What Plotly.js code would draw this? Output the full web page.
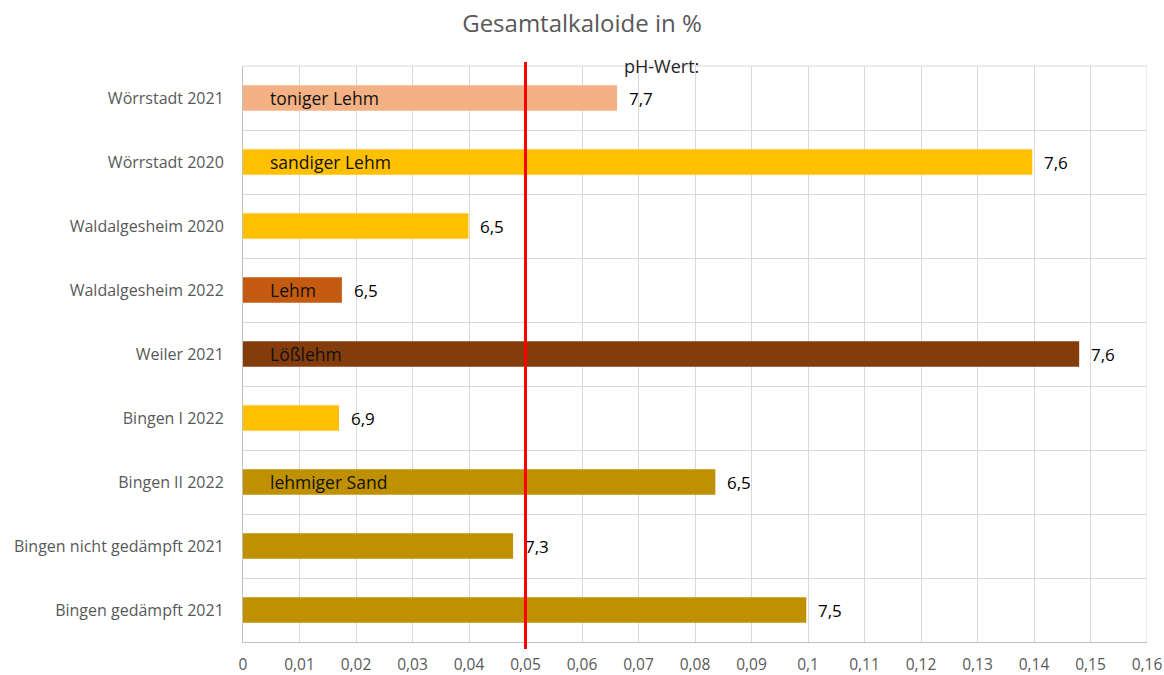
<!DOCTYPE html>
<html><head><meta charset="utf-8">
<script src="https://cdn.plot.ly/plotly-3.0.1.min.js"></script>
<style>body{margin:0;background:#fff}#c{width:1164px;height:675px}</style>
</head><body><div id="c"></div>
<script>
const categories = ["Wörrstadt 2021","Wörrstadt 2020","Waldalgesheim 2020","Waldalgesheim 2022","Weiler 2021","Bingen I 2022","Bingen II 2022","Bingen nicht gedämpft 2021","Bingen gedämpft 2021"];
const alkaloidValues = [0.0662,0.1397,0.0399,0.0175,0.148,0.017,0.0836,0.0478,0.0997];
const phLabels = ["7,7","7,6","6,5","6,5","7,6","6,9","6,5","7,3","7,5"];
const soilLabels = ["toniger Lehm","sandiger Lehm","","Lehm","Lößlehm","","lehmiger Sand","",""];
const barColors = ["#F4B183","#FFC000","#FFC000","#C55A11","#843C0C","#FFC000","#BF9000","#BF9000","#BF9000"];
const xTickVals = [0,0.01,0.02,0.03,0.04,0.05,0.06,0.07,0.08,0.09,0.1,0.11,0.12,0.13,0.14,0.15,0.16];
const xTickText = ["0","0,01","0,02","0,03","0,04","0,05","0,06","0,07","0,08","0,09","0,1","0,11","0,12","0,13","0,14","0,15","0,16"];
const thresholdValue = 0.05;

const font = "Open Sans, Liberation Sans, sans-serif";
const annotations = [];
categories.forEach((c,i)=>{
  annotations.push({x: alkaloidValues[i], y: c, xref:'x', yref:'y', text: phLabels[i], showarrow:false, xanchor:'left', xshift:10, font:{family:font,size:17,color:'#000'}});
  if (soilLabels[i]) annotations.push({x: 0, y: c, xref:'x', yref:'y', text: soilLabels[i], showarrow:false, xanchor:'left', xshift:25, font:{family:font,size:17.5,color:'#111'}});
});
annotations.push({x:0.067, y:1, xref:'x', yref:'paper', text:'pH-Wert:', showarrow:false, xanchor:'left', yanchor:'middle', font:{family:font,size:18,color:'#262626'}});

Plotly.newPlot('c', [{
  type:'bar', orientation:'h', y: categories, x: alkaloidValues,
  marker:{color: barColors, line:{width:0}}, width:0.4, hoverinfo:'none'
}], {
  width:1164, height:675,
  margin:{l:243, r:17, t:66, b:33},
  paper_bgcolor:'#fff', plot_bgcolor:'#fff',
  title:{text:'Gesamtalkaloide in %', x:0.5, xanchor:'center', y:0.965, yanchor:'middle', font:{family:font,size:24,color:'#595959'}},
  showlegend:false,
  xaxis:{range:[0,0.16], tickvals:xTickVals, ticktext:xTickText, showgrid:true, gridcolor:'#D9D9D9', gridwidth:1,
    zeroline:false, showline:true, linecolor:'#BFBFBF', linewidth:1, ticks:'outside', ticklen:8, tickcolor:'rgba(0,0,0,0)',
    tickfont:{family:font,size:15.5,color:'#595959'}, fixedrange:true},
  yaxis:{autorange:'reversed', type:'category', tickson:'boundaries', showgrid:true, gridcolor:'#D9D9D9', gridwidth:1,
    showline:true, linecolor:'#BFBFBF', linewidth:1, ticks:'', ticklabelstandoff:15,
    tickfont:{family:font,size:16,color:'#595959'}, fixedrange:true},
  shapes:[
    {type:'line', xref:'x', yref:'paper', x0:0.16, x1:0.16, y0:0, y1:1, line:{color:'#D9D9D9', width:1}},
    {type:'line', xref:'paper', yref:'paper', x0:0, x1:1, y0:1, y1:1, line:{color:'#D9D9D9', width:1}},
    {type:'line', xref:'x', yref:'paper', x0:thresholdValue, x1:thresholdValue, y0:-0.012, y1:1.007, line:{color:'#FF0000', width:3}}
  ],
  annotations: annotations
}, {staticPlot:true});
</script></body></html>
